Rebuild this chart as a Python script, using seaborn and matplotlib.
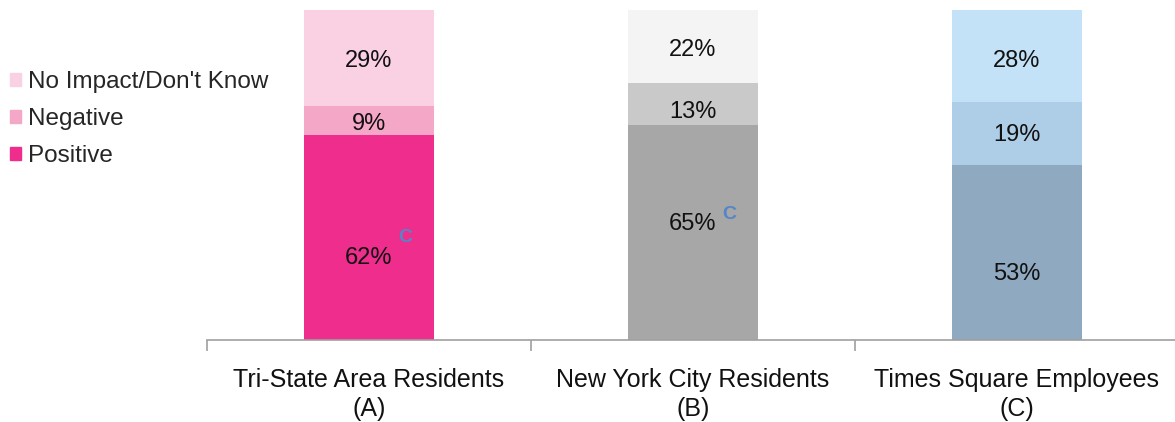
import matplotlib.pyplot as plt
import matplotlib.patches as mpatches
import seaborn as sns

# --- data ---
groups = ["Tri-State Area Residents\n(A)", "New York City Residents\n(B)", "Times Square Employees\n(C)"]
positive = [62, 65, 53]
negative = [9, 13, 19]
no_impact = [29, 22, 28]
sig_letter = ["C", "C", ""]
legend_labels = ["No Impact/Don't Know", "Negative", "Positive"]

# colours per group: (positive, negative, no impact)
colors = {
    "pos": ["#EE2D8C", "#A6A7A6", "#8FA9C0"],
    "neg": ["#F4A7C7", "#C9C9C9", "#AECDE6"],
    "none": ["#FAD1E3", "#F4F4F4", "#C4E2F7"],
}

# label heights (in % units) as placed in the original
label_y = {
    "pos": [25, 35, 20],
    "neg": [65.5, 69, 62],
    "none": [84.5, 88, 84.5],
}
sig_dy = [6, 3, 0]

sns.set_style("white")
plt.rcParams["font.family"] = ["Liberation Sans", "DejaVu Sans"]

fig = plt.figure(figsize=(11.75, 4.22), dpi=100)
ax = fig.add_axes([207 / 1175, (422 - 340) / 422, 972 / 1175, 330 / 422])

cum_neg = [p + n for p, n in zip(positive, negative)]
cum_all = [c + x for c, x in zip(cum_neg, no_impact)]

# overlapping cumulative bars (tallest first)
for heights, key in [(cum_all, "none"), (cum_neg, "neg"), (positive, "pos")]:
    sns.barplot(x=groups, y=heights, hue=groups, palette=colors[key], legend=False,
                width=0.4, saturation=1, linewidth=0, ax=ax)

ax.set_xlim(-0.5, 2.5)
ax.set_ylim(0, 100)

# value labels
for i in range(len(groups)):
    for key, vals in [("pos", positive), ("neg", negative), ("none", no_impact)]:
        ax.text(i, label_y[key][i], f"{vals[i]}%", ha="center", va="center",
                fontsize=17, color="#111111")
    if sig_letter[i]:
        ax.text(i + 0.112, label_y["pos"][i] + sig_dy[i], sig_letter[i], ha="center",
                va="center", fontsize=14, fontweight="bold", color="#5585C8")

# axis styling
for side in ["top", "right", "left"]:
    ax.spines[side].set_visible(False)
ax.spines["bottom"].set_color("#A0A0A0")
ax.spines["bottom"].set_linewidth(1.2)
ax.set_yticks([])
ax.set_xticks([-0.5, 0.5, 1.5, 2.5], minor=False)
ax.set_xticklabels([])
ax.tick_params(axis="x", which="major", bottom=True, direction="out", length=8,
               color="#A0A0A0", width=1.2)
ax.set_xticks([0, 1, 2], minor=True)
ax.set_xticklabels(groups, minor=True, fontsize=18, color="#111111", linespacing=1.3)
ax.tick_params(axis="x", which="minor", bottom=True, length=0, pad=20)
ax.set_xlabel("")
ax.set_ylabel("")

# legend
handles = [mpatches.Patch(color=colors[k][0]) for k in ["none", "neg", "pos"]]
fig.legend(handles, legend_labels, loc="upper left", bbox_to_anchor=(0.0, 0.855),
           frameon=False, fontsize=17.5, handlelength=0.45, handleheight=0.45,
           handletextpad=0.3, labelspacing=0.62, borderaxespad=0)

fig.savefig("out.png", dpi=100)
